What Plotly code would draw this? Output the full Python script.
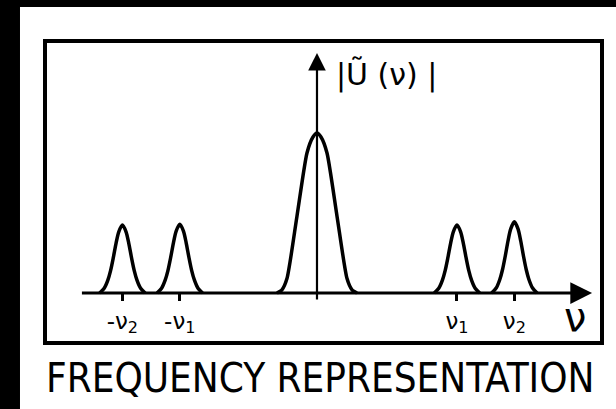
import plotly.graph_objects as go

# ---- data ----
peak_labels = ["-ν<sub>2</sub>", "-ν<sub>1</sub>", "", "ν<sub>1</sub>", "ν<sub>2</sub>"]
peak_centers = [-1.39, -0.98, 0.0, 1.00, 1.41]      # frequency (units of ν1)
peak_heights = [0.425, 0.43, 1.00, 0.425, 0.445]     # |Ũ(ν)| relative
peak_hwhm = [0.065, 0.065, 0.143, 0.065, 0.065]      # half width at half max

# normalised line profiles (offset in HWHM, level)
side_offsets = [-2.5, -2.0, -1.6, -1.3, -1.0, -0.7, -0.4, 0, 0.4, 0.7, 1.0, 1.3, 1.6, 2.0, 2.5]
side_levels = [0, 0.07, 0.19, 0.33, 0.52, 0.73, 0.9, 1, 0.9, 0.73, 0.52, 0.33, 0.19, 0.07, 0]
central_offsets = [-2.0, -1.75, -1.5, -1.0, -0.5, -0.2, 0, 0.2, 0.5, 1.0, 1.5, 1.75, 2.0]
central_levels = [0, 0.02, 0.09, 0.48, 0.875, 0.975, 1, 0.975, 0.875, 0.48, 0.09, 0.02, 0]

axis_start = -1.69
axis_end = 1.965
v_axis_bottom = -0.05
v_axis_top = 1.50

x_range = [-1.943, 2.036]
y_range = [-0.3125, 1.575]

fig = go.Figure()

# peaks
for c, h, w, lab in zip(peak_centers, peak_heights, peak_hwhm, peak_labels):
    if c == 0.0:
        offs, levs, sm = central_offsets, central_levels, 0.6
    else:
        offs, levs, sm = side_offsets, side_levels, 0.8
    fig.add_trace(go.Scatter(
        x=[c + o * w for o in offs],
        y=[h * l for l in levs],
        mode="lines",
        line=dict(color="black", width=3.5, shape="spline", smoothing=sm),
        hoverinfo="skip", showlegend=False,
    ))

# horizontal baseline (shaft drawn by annotation arrow)
fig.add_annotation(x=axis_end, y=0, ax=axis_start, ay=0, xref="x", yref="y",
                   axref="x", ayref="y", text="", showarrow=True,
                   arrowhead=2, arrowsize=1.45, arrowwidth=3, arrowcolor="black")
# vertical axis
fig.add_annotation(x=0, y=v_axis_top, ax=0, ay=v_axis_bottom, xref="x", yref="y",
                   axref="x", ayref="y", text="", showarrow=True,
                   arrowhead=2, arrowsize=1.6, arrowwidth=2.2, arrowcolor="black")

# axis labels
fig.add_annotation(x=0.125, y=1.365, xref="x", yref="y", text="|Ũ (ν) |",
                   showarrow=False, xanchor="left", yanchor="middle",
                   font=dict(family="DejaVu Sans", size=30, color="black"))
fig.add_annotation(x=1.843, y=-0.15, xref="x", yref="y", text="ν",
                   showarrow=False, xanchor="center", yanchor="middle",
                   font=dict(family="DejaVu Sans", size=40, color="black"))

# caption
fig.add_annotation(x=0.4937, y=-0.116, xref="paper", yref="paper",
                   text="FREQUENCY REPRESENTATION", showarrow=False,
                   xanchor="center", yanchor="middle",
                   font=dict(family="Liberation Sans Narrow, DejaVu Sans Condensed, Liberation Sans",
                             size=40, color="black"))

# frame box and black scan borders
fig.add_shape(type="rect", xref="paper", yref="paper", x0=0, x1=1, y0=0, y1=1,
              line=dict(color="black", width=4), fillcolor="rgba(0,0,0,0)")
fig.add_shape(type="rect", xref="paper", yref="paper", x0=-0.09, x1=-0.0449,
              y0=-0.3, y1=1.2, line=dict(width=0), fillcolor="black")
fig.add_shape(type="rect", xref="paper", yref="paper", x0=-0.09, x1=1.1,
              y0=1.1126, y1=1.2, line=dict(width=0), fillcolor="black")

tick_vals = [c for c, lab in zip(peak_centers, peak_labels) if lab]
tick_text = [lab for lab in peak_labels if lab]

fig.update_layout(
    width=616, height=409,
    margin=dict(l=45, r=14, t=41, b=66),
    paper_bgcolor="white", plot_bgcolor="white",
    showlegend=False,
    xaxis=dict(range=x_range, showgrid=False, zeroline=False, showline=False,
               anchor="free", position=0.3125 / 1.8875,
               ticks="outside", ticklen=7, tickwidth=3, tickcolor="black",
               tickvals=tick_vals, ticktext=tick_text,
               tickfont=dict(family="DejaVu Sans", size=23, color="black")),
    yaxis=dict(range=y_range, showgrid=False, zeroline=False, showline=False,
               showticklabels=False, ticks=""),
)

fig.write_html("out.html", config={"displayModeBar": False},
               post_script="document.body.style.margin='0px';document.body.style.overflow='hidden';")
